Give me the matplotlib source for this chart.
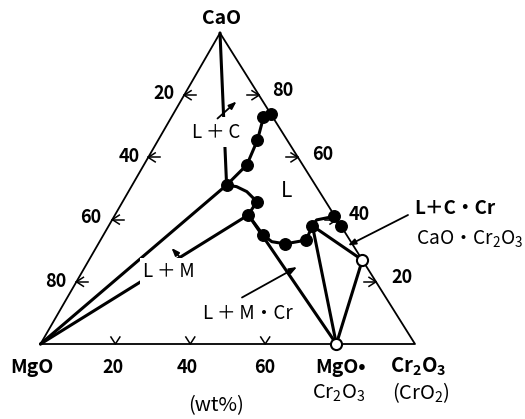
import numpy as np
import matplotlib
matplotlib.use('Agg')
import matplotlib.pyplot as plt

plt.rcParams['font.family'] = ['Noto Sans CJK JP', 'DejaVu Sans']
plt.rcParams['mathtext.default'] = 'regular'

# compositions in wt%, MgO is the remainder: 100 - CaO - Cr2O3
# CaO-saturated liquidus (measured points), top edge down to the eutectic
liq_c_cao = [74.0, 72.9, 65.6, 57.6, 51.1]
liq_c_cr = [26.0, 24.6, 26.5, 27.5, 25.2]

# liquidus from the eutectic to the CaO-Cr2O3 side (measured points)
liq_s_cao = [45.8, 41.5, 35.0, 32.2, 33.4, 38.0, 41.0, 37.9]
liq_s_cr = [35.8, 35.6, 42.7, 49.9, 54.9, 54.4, 58.6, 62.1]

# traced boundary through those points
curve_cao = [51.1, 50.6, 49.0, 45.8, 41.5, 35.0, 32.9, 32.2, 33.4, 38.0, 39.9, 41.0, 37.9]
curve_cr = [25.2, 28.1, 31.6, 35.8, 35.6, 42.7, 46.0, 49.9, 54.9, 54.4, 54.6, 58.6, 62.1]

# compounds (open circles)
mc_comp = (0.0, 79.0)    # MgO.Cr2O3  (CaO, Cr2O3)
cc_comp = (27.0, 73.0)   # CaO.Cr2O3

# invariant points
eut1 = (51.1, 25.2)   # L + C + M
eut2 = (41.5, 35.6)   # L + M + M.Cr
peri = (38.0, 54.4)   # L + M.Cr + C.Cr

tick_vals_left = [20, 40, 60, 80]     # MgO wt%
tick_vals_right = [20, 40, 60, 80]    # CaO wt%
tick_vals_bottom = [20, 40, 60]       # Cr2O3 wt%

# triangle corners in figure pixels
V_MGO = (40.5, 344.0)
V_CR = (415.0, 344.0)
V_CAO = (220.0, 33.0)

TS = '\u2009'   # thin space (falls back to DejaVu)


def to_xy(cao, cr):
    cao = np.asarray(cao, dtype=float) / 100
    cr = np.asarray(cr, dtype=float) / 100
    x = V_MGO[0] + cr * (V_CR[0] - V_MGO[0]) + cao * (V_CAO[0] - V_MGO[0])
    y = V_MGO[1] + cr * (V_CR[1] - V_MGO[1]) + cao * (V_CAO[1] - V_MGO[1])
    return x, y


def seg(ax, p, q, lw=2.2):
    x0, y0 = to_xy(*p)
    x1, y1 = to_xy(*q)
    ax.plot([x0, x1], [y0, y1], color='black', lw=lw, solid_capstyle='round', zorder=2)


def tick(ax, px, py, dx, dy, stem):
    # arrow-like tick: chevron whose tip sits on the edge
    nx, ny = -dy, dx
    ax.plot([px + dx * 7 + nx * 4.5, px, px + dx * 7 - nx * 4.5],
            [py + dy * 7 + ny * 4.5, py, py + dy * 7 - ny * 4.5],
            color='black', lw=1.1, zorder=2)
    if stem > 0:
        ax.plot([px, px + dx * stem], [py, py + dy * stem], color='black', lw=1.1, zorder=2)


fig = plt.figure(figsize=(5.25, 4.19), dpi=100)
ax = fig.add_axes([0, 0, 1, 1])
ax.set_xlim(0, 525)
ax.set_ylim(419, 0)
ax.axis('off')

# triangle
corners = [(100, 0), (0, 0), (0, 100), (100, 0)]
tx, ty = to_xy([c[0] for c in corners], [c[1] for c in corners])
ax.plot(tx, ty, color='black', lw=1.3, zorder=2)

# edge ticks
for v in tick_vals_left:
    x, y = to_xy(100 - v, 0)
    tick(ax, x, y, 1, 0, 12)
for v in tick_vals_right:
    x, y = to_xy(v, 100 - v)
    tick(ax, x, y, -1, 0, 12)
for v in tick_vals_bottom:
    x, y = to_xy(0, v)
    tick(ax, x, y, 0, -1, 0)

# boundary and tie lines
seg(ax, (100, 0), eut1)
seg(ax, (0, 0), eut1)
seg(ax, (0, 0), eut2)
seg(ax, eut2, mc_comp)
seg(ax, peri, mc_comp)
seg(ax, peri, cc_comp)
seg(ax, cc_comp, mc_comp)

cx, cy = to_xy(liq_c_cao, liq_c_cr)
ax.plot(cx, cy, color='black', lw=2.2, zorder=2)
sx, sy = to_xy(curve_cao, curve_cr)
ax.plot(sx, sy, color='black', lw=2.2, zorder=2)

# measured liquid compositions
ax.plot(cx, cy, 'o', color='black', ms=8.3, zorder=3)
lx, ly = to_xy(liq_s_cao, liq_s_cr)
ax.plot(lx, ly, 'o', color='black', ms=8.3, zorder=3)

# compounds
ox, oy = to_xy([mc_comp[0], cc_comp[0]], [mc_comp[1], cc_comp[1]])
ax.plot(ox, oy, 'o', mfc='white', mec='black', mew=1.5, ms=8, zorder=4)

# pointers
arr = dict(arrowstyle='-|>,head_length=0.45,head_width=0.17', color='black',
           lw=1.3, shrinkA=0, shrinkB=0)
ax.annotate('', xy=(236.5, 101.5), xytext=(217.5, 118.5), arrowprops=arr, zorder=6)
ax.annotate('', xy=(171.5, 248.0), xytext=(182.5, 260.0), arrowprops=arr, zorder=3)
ax.annotate('', xy=(297.0, 267.0), xytext=(242.0, 297.5), arrowprops=arr, zorder=3)
ax.annotate('', xy=(348.0, 245.5), xytext=(408.0, 215.0), arrowprops=arr, zorder=3)

# axis numbers
num = dict(fontsize=13, fontweight='bold', ha='center', va='center')
for v, (x, y) in zip(tick_vals_left, [(164, 93.5), (129, 156.5), (91, 217), (56, 281)]):
    ax.text(x, y, str(v), **num)
for v, (x, y) in zip(tick_vals_right, [(402, 277), (359, 214), (323, 154), (282.5, 91)]):
    ax.text(x, y, str(v), **num)
for v, x in zip(tick_vals_bottom, [112.5, 186.7, 264.5]):
    ax.text(x, 367, str(v), **num)

# corner and compound names
ax.text(221.5, 18.5, 'CaO', fontsize=14, fontweight='bold', ha='center', va='center')
ax.text(31.5, 367, 'MgO', fontsize=14, fontweight='bold', ha='center', va='center')
ax.text(315, 367, 'MgO•', fontsize=14, fontweight='bold', ha='left', va='center')
ax.text(339, 393, r'Cr$_2$O$_3$', fontsize=14.5, ha='center', va='center')
ax.text(418, 367, r'Cr$_2$O$_3$', fontsize=14.5, fontweight='bold', ha='center', va='center')
ax.text(421, 393, r'(CrO$_2$)', fontsize=14.5, ha='center', va='center')
ax.text(216.5, 406, '(wt%)', fontsize=14.5, ha='center', va='center')

# phase field labels
box = dict(facecolor='white', edgecolor='none', pad=3.0)
ax.text(216, 132, 'L' + TS + '＋' + TS + 'C', fontsize=13.5, ha='center', va='center',
        bbox=box, zorder=5)
ax.text(286.5, 191, 'L', fontsize=15, ha='center', va='center', zorder=5)
ax.text(169, 271, 'L' + TS + '＋' + TS + 'M', fontsize=13.5, ha='center', va='center',
        bbox=dict(facecolor='white', edgecolor='none', pad=2.0), zorder=5)
ax.text(248, 313.5, 'L' + TS + '＋' + TS + 'M・Cr', fontsize=13.5, ha='center', va='center',
        zorder=5)
ax.text(455, 208, 'L＋C・Cr', fontsize=13.5, fontweight='bold', ha='center', va='center',
        zorder=5)
ax.text(416, 239, r'CaO・Cr$_2$O$_3$', fontsize=13.8, ha='left', va='center', zorder=5)

fig.savefig('out.png', dpi=100, facecolor='white')
